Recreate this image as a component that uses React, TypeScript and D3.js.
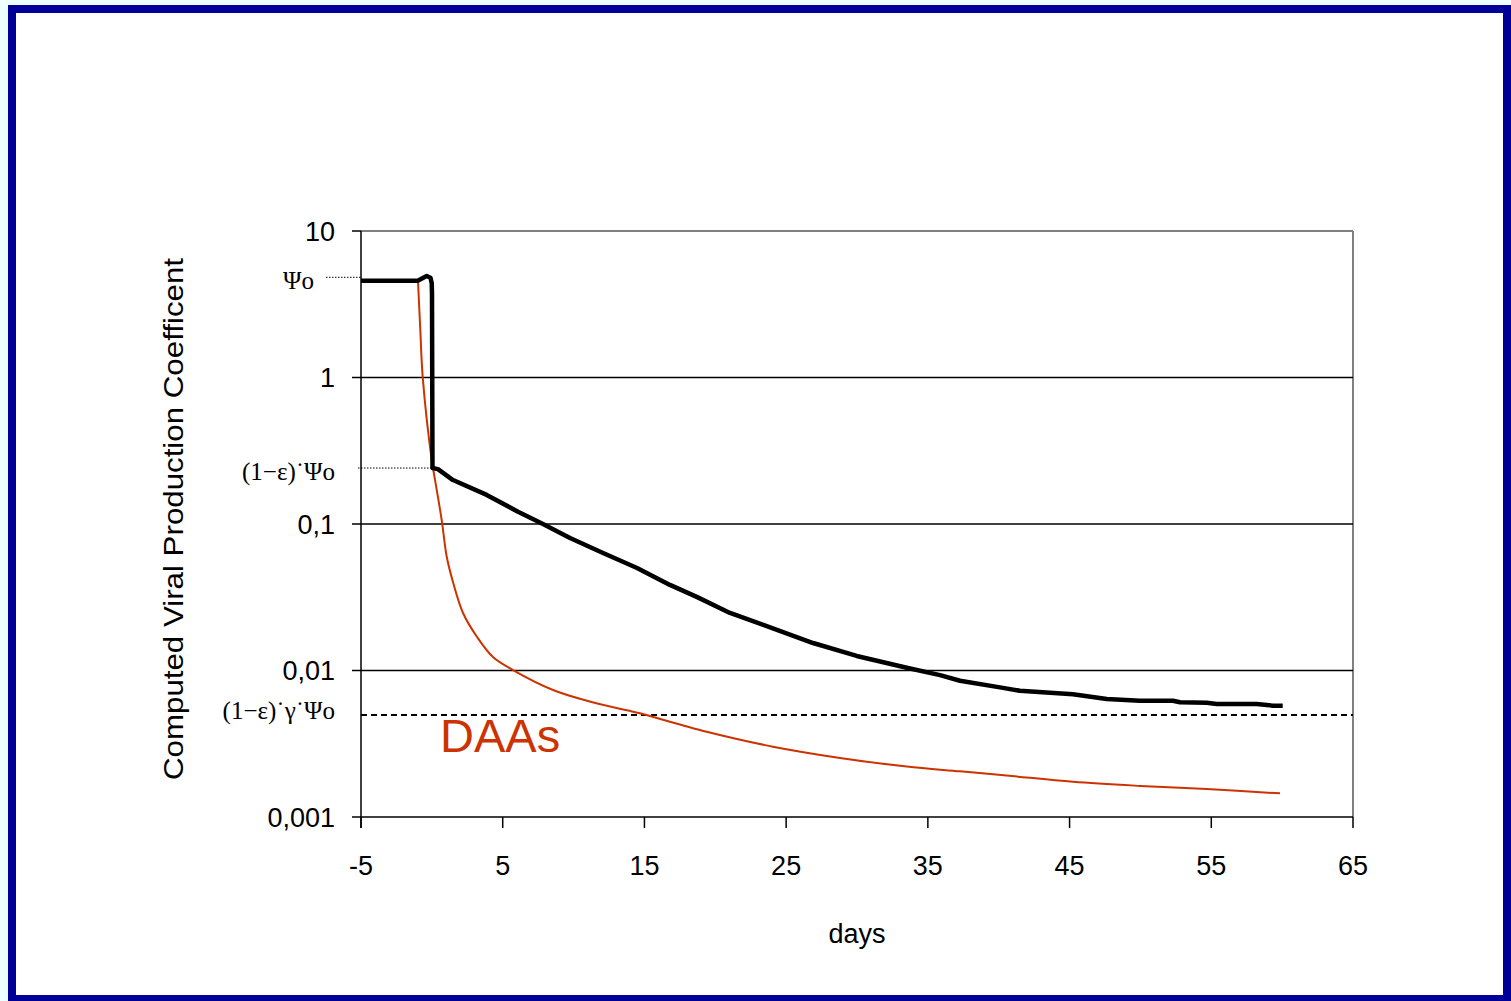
import React from "react";
import * as d3 from "d3";

// ---- data ----
const xTicks = [-5, 5, 15, 25, 35, 45, 55, 65];
const yTicks = [10, 1, 0.1, 0.01, 0.001];
const yTickLabels = ["10", "1", "0,1", "0,01", "0,001"];
const gridValues = [1, 0.1, 0.01];

const psi0 = 4.83;
const psiEps = 0.241;
const psiEpsGamma = 0.00497;

// black curve: computed coefficient
const blackDays = [-5, -1.0, -0.6, -0.36, -0.1, -0.01, 0.01, 0.045, 0.43, 1.49, 3.87, 6.08, 7.84, 9.75, 12.08, 14.48, 16.8, 18.69, 21.04, 23.63, 26.9, 29.98, 33.51, 35.86, 37.27, 40.09, 41.49, 45.24, 47.62, 49.97, 52.3, 52.79, 54.68, 55.38, 58.2, 59.36, 60.04];
const blackValues = [4.58, 4.58, 4.8, 4.93, 4.8, 4.41, 3.78, 0.241, 0.237, 0.1995, 0.158, 0.1213, 0.1, 0.0802, 0.0634, 0.0501, 0.0384, 0.0318, 0.0247, 0.0201, 0.0154, 0.01257, 0.01045, 0.0093, 0.00851, 0.00767, 0.00727, 0.00689, 0.00639, 0.00622, 0.00622, 0.00607, 0.00603, 0.0059, 0.0059, 0.00575, 0.00575];

// red curve: DAAs
const redDays = [-0.98, -0.815, -0.646, -0.011, 0.08, 0.695, 1.05, 1.51, 2.2, 3.19, 4.31, 5.73, 8.55, 10.95, 13.77, 14.69, 19.39, 24.07, 28.8, 33.51, 37.27, 40.56, 45.24, 49.97, 54.68, 59.85];
const redValues = [4.58, 2.11, 1.01, 0.2735, 0.241, 0.1064, 0.0598, 0.0396, 0.0247, 0.01694, 0.01236, 0.01007, 0.00736, 0.00622, 0.00535, 0.0051, 0.00382, 0.00302, 0.00253, 0.00221, 0.00205, 0.00192, 0.00174, 0.00163, 0.00155, 0.00145];

export default function App() {
  const W = 1511, H = 1001;
  const x = d3.scaleLinear().domain([-5, 65]).range([361, 1353]);
  const y = d3.scaleLog().domain([0.001, 10]).range([817, 231]);
  const x0 = x(-5), x1 = x(65), yTop = y(10), yBot = y(0.001);

  const black = blackDays.map((d, i) => [d, blackValues[i]] as [number, number]);
  const red = redDays.map((d, i) => [d, redValues[i]] as [number, number]);
  const lineB = d3.line<[number, number]>().x(d => x(d[0])).y(d => y(d[1]));
  const lineR = d3.line<[number, number]>().x(d => x(d[0])).y(d => y(d[1])).curve(d3.curveCatmullRom.alpha(0.5));

  const sans = "Liberation Sans, Arial, sans-serif";
  const serif = "Liberation Serif, Times New Roman, serif";

  return (
    <svg width={W} height={H} style={{ position: "absolute", left: 0, top: 0 }}>
      <rect x={0} y={0} width={W} height={H} fill="#eeffff" />
      <rect x={12} y={9} width={1495} height={990} fill="#ffffff" stroke="#000099" strokeWidth={8} />

      {/* plot frame */}
      <line x1={x0} x2={x1} y1={yTop} y2={yTop} stroke="#808080" strokeWidth={2} />
      <line x1={x1} x2={x1} y1={yTop} y2={yBot} stroke="#808080" strokeWidth={2} />
      {gridValues.map(v => (
        <line key={v} x1={x0} x2={x1} y1={y(v)} y2={y(v)} stroke="#000" strokeWidth={1.5} />
      ))}
      <line x1={x0} x2={x1} y1={yBot} y2={yBot} stroke="#000" strokeWidth={1.5} />
      <line x1={x0} x2={x0} y1={yTop} y2={yBot + 11} stroke="#000" strokeWidth={1.5} />

      {/* y ticks */}
      {yTicks.map((v, i) => (
        <g key={v}>
          <line x1={x0 - 9} x2={x0} y1={y(v)} y2={y(v)} stroke="#000" strokeWidth={1.5} />
          <text x={335} y={y(v)} dy="0.36em" textAnchor="end" fontFamily={sans} fontSize={27}>{yTickLabels[i]}</text>
        </g>
      ))}
      {/* x ticks */}
      {xTicks.map(v => (
        <g key={v}>
          <line x1={x(v)} x2={x(v)} y1={yBot} y2={yBot + 11} stroke="#000" strokeWidth={1.5} />
          <text x={x(v)} y={875} textAnchor="middle" fontFamily={sans} fontSize={27}>{v}</text>
        </g>
      ))}

      <text x={857} y={943} textAnchor="middle" fontFamily={sans} fontSize={27}>days</text>
      <text transform={`translate(183,519) rotate(-90)`} textAnchor="middle" fontFamily={sans} fontSize={28} textLength={522} lengthAdjust="spacingAndGlyphs">Computed Viral Production Coefficent</text>

      {/* reference levels */}
      <line x1={326} x2={x0} y1={y(psi0)} y2={y(psi0)} stroke="#000" strokeWidth={1} strokeDasharray="1.5,1.5" />
      <line x1={x0 - 3} x2={x(0)} y1={y(psiEps)} y2={y(psiEps)} stroke="#000" strokeWidth={1} strokeDasharray="1.5,1.5" />
      <line x1={x0} x2={x1} y1={y(psiEpsGamma)} y2={y(psiEpsGamma)} stroke="#000" strokeWidth={2} strokeDasharray="6,4" />

      <text x={314} y={y(psi0) + 3} dy="0.36em" textAnchor="end" fontFamily={serif} fontSize={25}>Ψo</text>
      <text x={335} y={y(psiEps) + 3} dy="0.36em" textAnchor="end" fontFamily={serif} fontSize={25}>(1−ε)˙Ψo</text>
      <text x={335} y={y(psiEpsGamma) - 5} dy="0.36em" textAnchor="end" fontFamily={serif} fontSize={25}>(1−ε)˙γ˙Ψo</text>

      {/* curves */}
      <path d={lineR(red) || ""} fill="none" stroke="#cc3300" strokeWidth={2} />
      <path d={lineB(black) || ""} fill="none" stroke="#000" strokeWidth={4.5} strokeLinejoin="round" />

      <text x={440} y={752} fontFamily={sans} fontSize={47} fill="#cc3300">DAAs</text>
    </svg>
  );
}
